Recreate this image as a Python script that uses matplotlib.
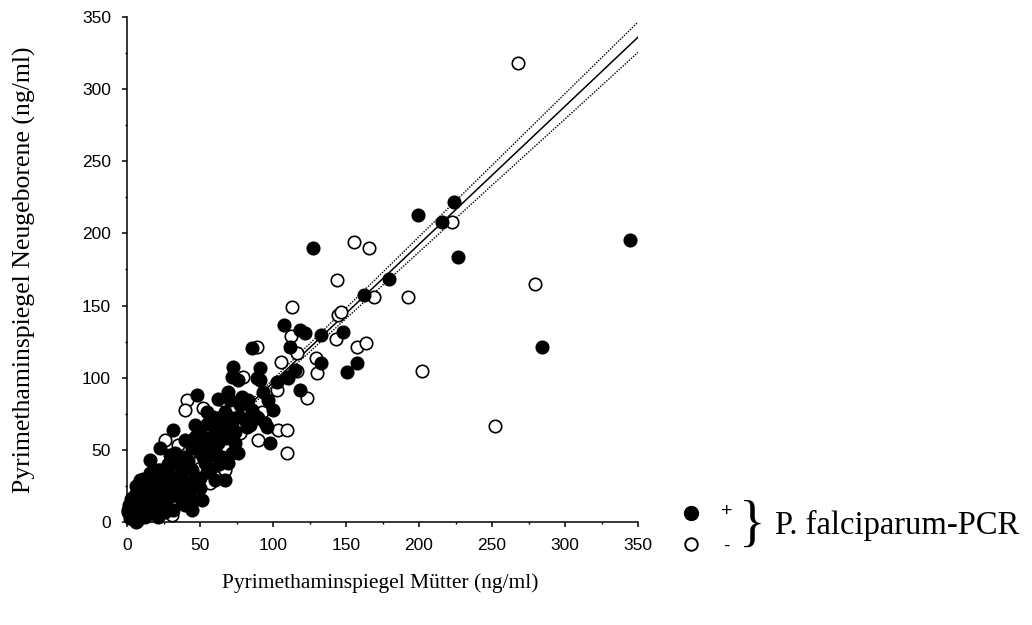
import numpy as np
import matplotlib.pyplot as plt
from matplotlib.ticker import MultipleLocator

# P. falciparum-PCR positive (filled circles): mother, newborn (ng/ml)
pos_mother = [344.5, 284.2, 226.7, 224.0, 215.8, 199.3, 179.5, 162.3, 127.4, 107.5,
              118.5, 121.9, 132.9, 147.9, 85.6, 111.6, 132.9, 157.5, 150.7, 72.6,
              91.1, 109.6, 71.9, 89.0, 102.7, 110.3, 115.1, 118.5, 69.2, 78.8,
              93.2, 96.6, 100.0, 89.7, 94.5, 47.9, 54.8, 62.3, 67.1, 70.5,
              77.4, 85.6, 97.9, 31.5, 22.6, 46.6, 46.6, 53.4, 62.3, 74.0,
              71.9, 56.8, 44.5, 39.7, 32.9, 28.1, 34.9, 44.5, 53.4, 69.2,
              65.1, 71.9, 76.0, 67.1, 50.0, 51.4, 44.5, 31.5, 12.3, 17.1,
              7.5, 10.3, 4.1, 17.1, 21.2, 26.0, 32.9, 36.3, 3.4, 12.3,
              21.2, 26.0, 19.2, 14.4, 24.0, 30.8, 56.8, 60.3, 56.8, 63.7,
              58.2, 80.8, 74.0, 84.2, 50.0, 39.7, 36.3, 22.6, 15.8, 8.9,
              5.5, 2.1, 8.9, 15.8, 26.0, 39.7, 43.2, 50.0, 39.7, 29.5,
              2.0, 0.7, 76.0, 91.1, 82.9, 76.0, 89.0, 61.6, 82.2, 95.9,
              58.9, 5.0, 9.0, 14.0, 18.0, 22.0, 27.0, 30.0, 35.0, 38.0,
              42.0, 6.0, 11.0, 16.0, 20.0, 25.0, 28.0, 33.0, 38.0, 42.0,
              47.0, 52.0, 55.0, 60.0, 63.0, 58.0, 48.0, 36.0, 45.0, 50.0,
              55.0, 60.0, 65.0, 68.0, 72.0, 62.0, 1.5, 4.0, 7.0, 3.0]
pos_newborn = [195.4, 121.3, 183.6, 221.8, 207.9, 212.8, 168.4, 157.3, 189.9, 136.5,
               133.0, 131.0, 129.6, 131.7, 120.6, 121.3, 110.2, 110.2, 104.0, 107.4,
               106.7, 100.5, 100.5, 99.8, 97.0, 99.8, 105.3, 91.5, 90.1, 86.6,
               90.1, 84.5, 77.6, 72.1, 68.6, 88.0, 76.2, 72.1, 76.2, 84.5,
               81.1, 77.6, 54.7, 63.8, 51.3, 67.2, 58.9, 58.2, 54.7, 54.7,
               65.8, 52.0, 51.3, 45.0, 40.9, 34.0, 31.2, 36.0, 40.9, 40.9,
               45.0, 47.8, 47.8, 29.1, 23.6, 15.2, 8.3, 8.3, 24.3, 20.1,
               20.1, 15.2, 8.3, 10.4, 13.2, 15.2, 22.2, 17.3, 3.5, 3.5,
               3.5, 24.3, 29.1, 24.3, 31.2, 31.2, 36.0, 29.1, 46.4, 63.8,
               67.2, 70.7, 62.4, 67.2, 48.5, 56.8, 39.5, 36.0, 43.0, 29.1,
               18.7, 11.8, 6.9, 6.9, 6.9, 11.8, 22.2, 30.5, 27.7, 46.4,
               2.8, 6.9, 98.4, 98.4, 84.5, 72.8, 72.8, 65.8, 65.8, 65.8,
               72.8, 5.0, 12.0, 9.0, 16.0, 19.0, 12.0, 18.0, 25.0, 14.0,
               20.0, 25.0, 30.0, 34.0, 26.0, 28.0, 40.0, 48.0, 35.0, 42.0,
               30.0, 45.0, 35.0, 50.0, 40.0, 58.0, 55.0, 22.0, 15.0, 62.0,
               68.0, 62.0, 70.0, 58.0, 72.0, 85.0, 12.0, 2.0, 1.0, 16.0]

# P. falciparum-PCR negative (open circles)
neg_mother = [267.8, 279.5, 252.1, 202.1, 192.5, 222.6, 155.5, 165.8, 143.8, 169.2,
              113.0, 144.5, 146.6, 112.3, 143.2, 89.0, 116.4, 157.5, 163.7, 105.5,
              129.5, 130.1, 116.4, 79.5, 123.3, 65.8, 82.2, 92.5, 41.1, 39.7,
              52.1, 103.4, 109.6, 89.7, 109.6, 26.0, 34.9, 77.4, 21.2, 50.0,
              60.3, 67.1, 58.2, 30.8, 3.4, 37.7, 24.0, 102.7, 56.8, 2.0,
              6.0, 1.0]
neg_newborn = [318.1, 164.9, 66.5, 104.6, 155.9, 207.9, 194.0, 189.9, 167.7, 155.9,
               149.0, 143.5, 145.5, 128.9, 126.8, 121.3, 117.1, 121.3, 124.0, 110.9,
               113.7, 103.3, 104.6, 100.5, 85.9, 84.5, 79.7, 76.2, 84.5, 77.6,
               79.0, 63.8, 63.8, 56.8, 47.8, 56.8, 53.4, 61.7, 36.0, 37.4,
               31.2, 36.0, 45.0, 4.9, 16.6, 20.1, 6.9, 91.5, 27.0, 12.0,
               0.0, 8.0]

# regression line and 95% confidence band
reg_x = [0, 350]
reg_y = [1.0, 336.0]
band_x = [0, 50, 100, 150, 200, 250, 300, 350]
band_upper = [3.6, 50.4, 98.8, 148.2, 197.7, 247.2, 296.9, 346.5]
band_lower = [-1.6, 47.4, 94.6, 141.0, 187.1, 233.4, 279.3, 325.5]

serif = ['Liberation Serif', 'DejaVu Serif']
sans = ['Liberation Sans', 'DejaVu Sans']

fig = plt.figure(figsize=(10.32, 6.25), dpi=100)
ax = fig.add_axes([127 / 1032, 103 / 625, 511 / 1032, 505 / 625])

ax.scatter(neg_mother, neg_newborn, s=80, facecolor='white', edgecolor='black',
           linewidth=1.2, zorder=3, clip_on=False)
ax.scatter(pos_mother, pos_newborn, s=80, facecolor='black', edgecolor='black',
           linewidth=1.2, zorder=4, clip_on=False)

ax.plot(reg_x, reg_y, color='black', linewidth=1.1, zorder=2)
ax.plot(band_x, band_upper, color='black', linestyle=(0, (1, 1)), linewidth=1.0, zorder=2)
ax.plot(band_x, band_lower, color='black', linestyle=(0, (1, 1)), linewidth=1.0, zorder=2)

ax.set_xlim(0, 350)
ax.set_ylim(0, 350)
ax.xaxis.set_major_locator(MultipleLocator(50))
ax.yaxis.set_major_locator(MultipleLocator(50))
ax.xaxis.set_minor_locator(MultipleLocator(25))
ax.yaxis.set_minor_locator(MultipleLocator(25))
ax.tick_params(which='major', direction='out', length=3.5, width=1.1, pad=8,
               labelsize=12.5)
ax.tick_params(which='minor', direction='out', length=1.5, width=1.0)
for lab in ax.get_xticklabels() + ax.get_yticklabels():
    lab.set_family(sans)

for side in ['top', 'right']:
    ax.spines[side].set_visible(False)
for side in ['left', 'bottom']:
    ax.spines[side].set_linewidth(1.1)

fig.text(380 / 1032, 1 - 583 / 625, 'Pyrimethaminspiegel Mütter (ng/ml)',
         family=serif, fontsize=15.5, ha='center', va='center')
fig.text(24 / 1032, 1 - 270 / 625, 'Pyrimethaminspiegel Neugeborene (ng/ml)',
         family=serif, fontsize=18.5, ha='center', va='center', rotation=90)

# legend drawn by hand
fig.add_artist(plt.Line2D([691 / 1032], [1 - 513 / 625], marker='o', markersize=10,
                          markerfacecolor='black', markeredgecolor='black',
                          linestyle='none', transform=fig.transFigure))
fig.add_artist(plt.Line2D([691 / 1032], [1 - 544 / 625], marker='o', markersize=9,
                          markerfacecolor='white', markeredgecolor='black',
                          markeredgewidth=1.4, linestyle='none',
                          transform=fig.transFigure))
fig.text(727 / 1032, 1 - 511 / 625, '+', family=sans, fontsize=14,
         ha='center', va='center')
fig.text(726 / 1032, 1 - 546 / 625, '-', family=sans, fontsize=14,
         ha='center', va='center')
fig.text(752 / 1032, 1 - 527 / 625, '}', family=serif, fontsize=40,
         ha='center', va='center')
fig.text(775 / 1032, 1 - 525 / 625, 'P. falciparum-PCR', family=serif,
         fontsize=23.5, ha='left', va='center')

fig.savefig('out.png', dpi=100)
